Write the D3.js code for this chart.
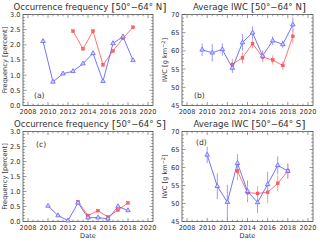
<!DOCTYPE html>
<html><head><meta charset="utf-8">
<script src="https://cdn.jsdelivr.net/npm/d3@7"></script>
<style>body{margin:0;background:#fff}svg{display:block}text{font-family:"DejaVu Sans",sans-serif;fill:#333}</style>
</head><body><svg id="c" width="320" height="242"></svg>
<script>
// ---- data ----
const yearsN = [2009.5,2010.5,2011.5,2012.5,2013.5,2014.5,2015.5,2016.5,2017.5,2018.5];
const yearsNred = [2012.5,2013.5,2014.5,2015.5,2016.5,2017.5,2018.5];
const yearsS = [2010,2011,2012,2013,2014,2015,2016,2017,2018];
const yearsSred = [2013,2014,2015,2016,2017,2018];

const freqNblue = [2.12,0.78,1.05,1.13,1.38,1.72,0.80,2.05,2.27,1.49];
const freqNred  = [2.45,1.87,2.45,1.34,1.80,2.22,2.58];
const iwcNblue  = [60.3,59.5,60.4,55.3,62.3,65.0,58.6,62.8,61.8,67.2];
const iwcNblueErr = [1.7,2.4,1.7,1.4,2.3,1.7,1.5,1.2,1.0,2.0];
const iwcNred   = [56.3,58.1,62.0,58.3,57.5,56.0,64.0];
const iwcNredErr = [1.5,1.5,1.3,1.4,1.3,1.2,2.0];

const freqSblue = [0.52,0.20,0.03,0.62,0.13,0.13,0.09,0.50,0.37];
const freqSred  = [0.66,0.20,0.36,0.15,0.38,0.62];
const iwcSblue  = [63.5,54.8,50.4,61.2,53.4,50.3,55.3,60.6,59.0];
const iwcSblueErr = [2.3,3.6,4.8,2.5,3.0,3.0,3.5,2.5,2.0];
const iwcSred   = [59.0,53.0,52.8,53.1,55.6,59.0];
const iwcSredErr = [2.5,2.0,2.0,3.0,2.2,2.2];

const xTicks = [2008,2010,2012,2014,2016,2018,2020];
const freqTicks = [0.0,0.5,1.0,1.5,2.0,2.5,3.0];
const iwcTicks = [45,50,55,60,65,70];

const titles = ["Occurrence frequency","Average IWC","Occurrence frequency","Average IWC"];
const regions = ["50°−64° N","50°−64° N","50°−64° S","50°−64° S"];
const letters = ["(a)","(b)","(c)","(d)"];

// ---- drawing ----
const svg = d3.select("#c");
const BLUE = "#6464ff", RED = "#ff6464", BLUEE = "#9a9aff", REDE = "#ff9c9c", AX = "#555";

const panels = [
 {x0:23,x1:153,y0:14.5,y1:105.5, kind:"f", xb:yearsN, yb:freqNblue, xr:yearsNred, yr:freqNred, lab:[34,98]},
 {x0:182,x1:313,y0:14.5,y1:105.5, kind:"i", xb:yearsN, yb:iwcNblue, eb:iwcNblueErr, xr:yearsNred, yr:iwcNred, er:iwcNredErr, lab:[194,98]},
 {x0:23,x1:153,y0:131.5,y1:221.5, kind:"f", xb:yearsS, yb:freqSblue, xr:yearsSred, yr:freqSred, lab:[36,147]},
 {x0:182,x1:313,y0:131.5,y1:221.5, kind:"i", xb:yearsS, yb:iwcSblue, eb:iwcSblueErr, xr:yearsSred, yr:iwcSred, er:iwcSredErr, lab:[196,145]}
];

panels.forEach((p,i)=>{
  const x = d3.scaleLinear().domain([2007.5,2020.5]).range([p.x0,p.x1]);
  const y = p.kind==="f" ? d3.scaleLinear().domain([0,3]).range([p.y1,p.y0])
                         : d3.scaleLinear().domain([45,70]).range([p.y1,p.y0]);
  const g = svg.append("g");
  const w = p.x1-p.x0, h = p.y1-p.y0;
  g.append("rect").attr("x",p.x0).attr("y",p.y0).attr("width",w).attr("height",h)
   .attr("fill","none").attr("stroke",AX).attr("stroke-width",0.8);
  const xt = xTicks;
  const xMinor = d3.range(2008,2020.01,0.5);
  const yt = p.kind==="f"?freqTicks:iwcTicks;
  const yMinor = p.kind==="f" ? d3.range(0,3.001,0.1) : d3.range(45,70.01,1);
  const tick = (x1,y1,x2,y2)=>g.append("line").attr("x1",x1).attr("y1",y1).attr("x2",x2).attr("y2",y2).attr("stroke",AX).attr("stroke-width",0.6);
  xMinor.forEach(v=>{const L=xt.includes(v)?3.5:1.8; tick(x(v),p.y1,x(v),p.y1-L); tick(x(v),p.y0,x(v),p.y0+L);});
  yMinor.forEach(v=>{const isM=yt.some(t=>Math.abs(t-v)<1e-6); const L=isM?3.5:1.8; tick(p.x0,y(v),p.x0+L,y(v)); tick(p.x1,y(v),p.x1-L,y(v));});
  xt.forEach(v=>g.append("text").attr("x",x(v)).attr("y",p.y1+8.5).attr("text-anchor","middle").attr("font-size",6.6).text(v));
  yt.forEach(v=>g.append("text").attr("x",p.x0-2.5).attr("y",y(v)+2.4).attr("text-anchor","end").attr("font-size",6.6)
    .text(p.kind==="f"?v.toFixed(1):v));
  const cy=(p.y0+p.y1)/2;
  if(p.kind==="f"){
    g.append("text").attr("transform",`translate(${p.x0-16},${cy}) rotate(-90)`).attr("text-anchor","middle").attr("font-size",6.6).text("Frequency [percent]");
  } else {
    const t=g.append("text").attr("transform",`translate(${p.x0-15},${cy}) rotate(-90)`).attr("text-anchor","middle").attr("font-size",6.6);
    t.append("tspan").text("IWC [g km");
    t.append("tspan").attr("dy",-2.5).attr("font-size",5).text("−2");
    t.append("tspan").attr("dy",2.5).text("]");
  }
  if(i>=2) g.append("text").attr("x",(p.x0+p.x1)/2).attr("y",p.y1+16).attr("text-anchor","middle").attr("font-size",6.6).text("Date");
  const tt=g.append("text").attr("x",(p.x0+p.x1)/2 + 2).attr("y",p.y0-5).attr("text-anchor","middle").attr("font-size",8.6);
  tt.append("tspan").text(titles[i]+"  ");
  tt.append("tspan").attr("font-size",11).attr("dy",1).text("[");
  tt.append("tspan").attr("font-size",8.6).attr("dy",-1).text(regions[i]);
  tt.append("tspan").attr("font-size",11).attr("dy",1).text("]");
  g.append("text").attr("x",p.lab[0]).attr("y",p.lab[1]).attr("font-size",7.6).text(letters[i]);

  const line = d3.line().x(d=>x(d[0])).y(d=>y(d[1]));
  const bd = p.xb.map((v,k)=>[v,p.yb[k], p.eb?p.eb[k]:0]);
  const rd = p.xr.map((v,k)=>[v,p.yr[k], p.er?p.er[k]:0]);
  if(p.eb){
    bd.forEach(d=>g.append("line").attr("x1",x(d[0])).attr("x2",x(d[0])).attr("y1",y(d[1]-d[2])).attr("y2",y(d[1]+d[2])).attr("stroke",BLUEE).attr("stroke-width",1));
    rd.forEach(d=>g.append("line").attr("x1",x(d[0])).attr("x2",x(d[0])).attr("y1",y(d[1]-d[2])).attr("y2",y(d[1]+d[2])).attr("stroke",REDE).attr("stroke-width",1));
  }
  g.append("path").attr("d",line(rd)).attr("fill","none").attr("stroke",RED).attr("stroke-width",0.9);
  g.append("path").attr("d",line(bd)).attr("fill","none").attr("stroke",BLUE).attr("stroke-width",0.9);
  rd.forEach(d=>g.append("rect").attr("x",x(d[0])-1.4).attr("y",y(d[1])-1.4).attr("width",2.8).attr("height",2.8).attr("fill",RED).attr("stroke","#e33").attr("stroke-width",0.4));
  const tri = d3.symbol().type(d3.symbolTriangle).size(9);
  bd.forEach(d=>g.append("path").attr("d",tri()).attr("transform",`translate(${x(d[0])},${y(d[1])})`).attr("fill","#d0d0ff").attr("stroke",BLUE).attr("stroke-width",0.8));
});
</script></body></html>
